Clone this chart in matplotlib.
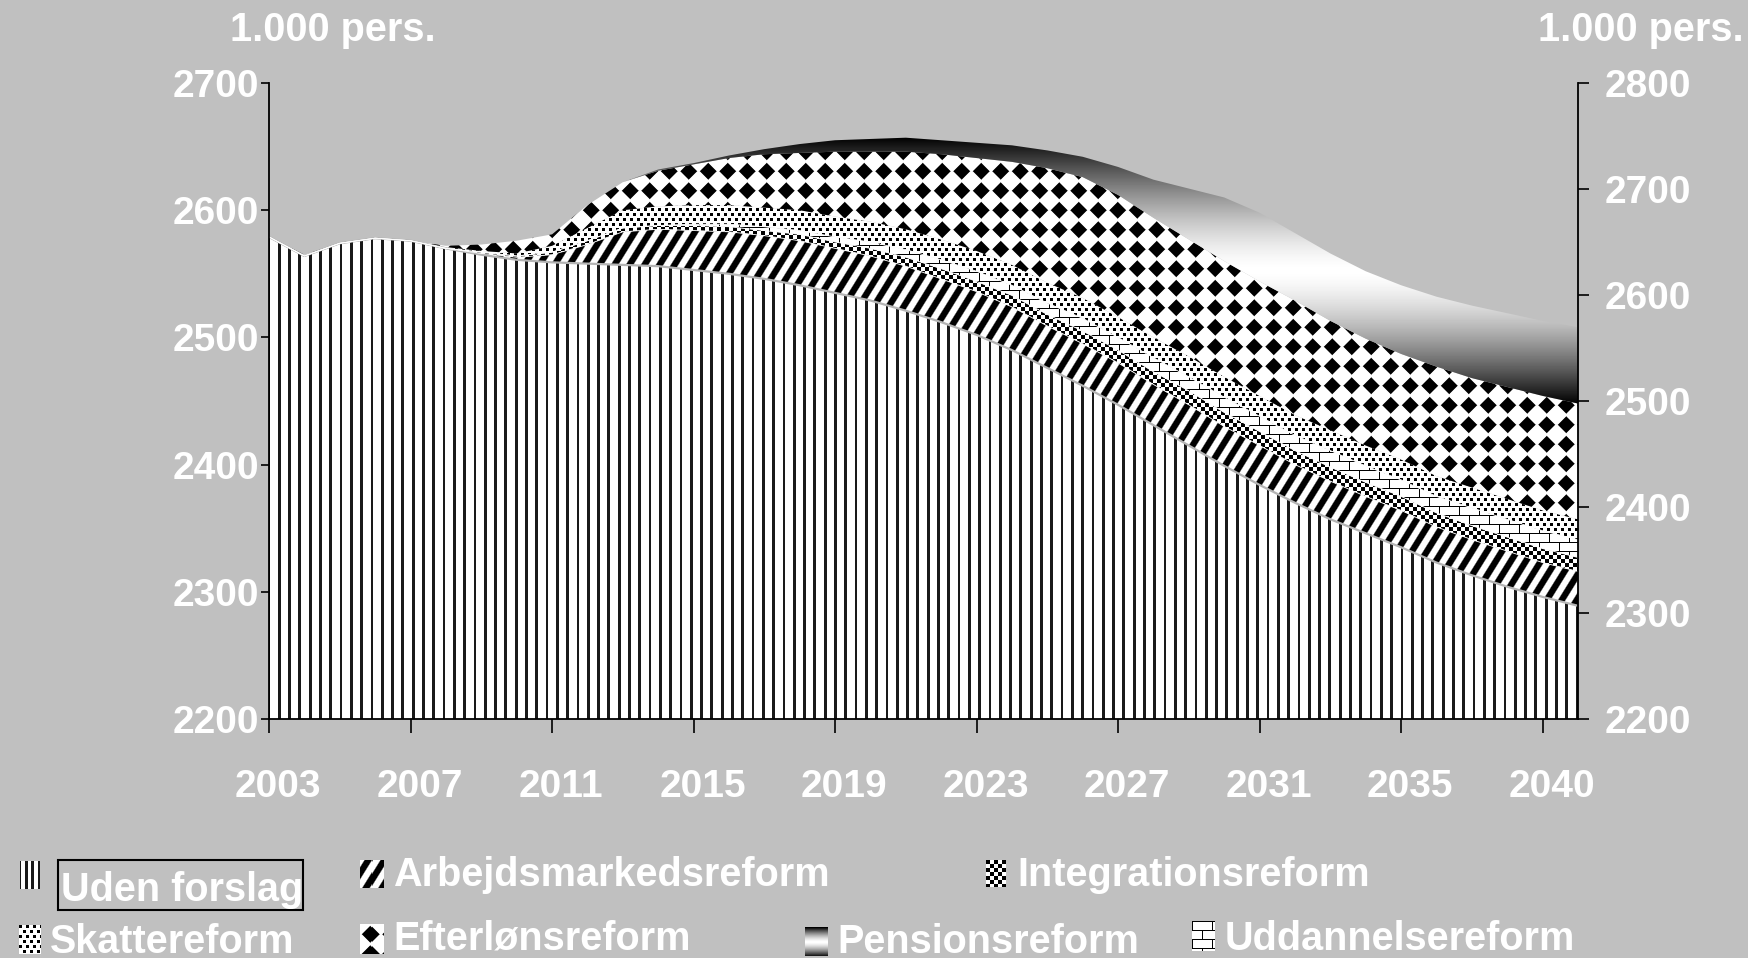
import numpy as np
import matplotlib
matplotlib.use("Agg")
import matplotlib.pyplot as plt
from matplotlib.patches import Rectangle
from matplotlib.transforms import ScaledTranslation

plt.rcParams['font.family'] = ['Liberation Sans', 'DejaVu Sans']
plt.rcParams['font.weight'] = 'bold'

#### data (1.000 pers.), one value per year 2003..2040
years = list(range(2003, 2041))
tick_pos = [0, 4, 8, 12, 16, 20, 24, 28, 32, 36]
tick_labels = ["2003", "2007", "2011", "2015", "2019", "2023", "2027", "2031", "2035", "2040"]

uden_forslag = [2579, 2564, 2574, 2578, 2576, 2570, 2565, 2561, 2559, 2558,
                2557, 2556, 2553, 2550, 2546, 2541, 2535, 2529, 2521, 2512,
                2502, 2490, 2476, 2462, 2447, 2431, 2415, 2399, 2384, 2370,
                2357, 2346, 2335, 2323, 2313, 2304, 2296, 2289]
arbejdsmarked = [0, 0, 0, 0, 0, 0, 1, 2, 6, 15,
                 26, 29, 31, 33, 34, 35, 35, 35, 35, 34,
                 34, 34, 33, 33, 33, 32, 32, 31, 31, 30,
                 30, 29, 29, 28, 28, 28, 27, 27]
integration = [0, 0, 0, 0, 0, 0, 1, 1, 2, 3,
               3, 3, 4, 4, 4, 5, 5, 6, 7, 8,
               8, 9, 9, 10, 10, 10, 11, 11, 11, 11,
               11, 11, 11, 11, 11, 11, 11, 11]
uddannelse = [0, 0, 0, 0, 0, 0, 0, 0, 0, 0,
              0, 0, 1, 2, 3, 3, 4, 5, 6, 7,
              8, 8, 9, 10, 10, 11, 11, 12, 12, 12,
              13, 13, 13, 13, 14, 14, 14, 14]
skatte = [0, 0, 0, 0, 0, 1, 1, 2, 5, 10,
          14, 15, 15, 15, 15, 16, 16, 16, 16, 16,
          16, 16, 16, 16, 16, 16, 16, 16, 16, 16,
          16, 16, 16, 16, 16, 16, 16, 16]
efterloen = [0, 1, 0, 0, 0, 1, 5, 10, 9, 18,
             22, 28, 32, 37, 42, 45, 51, 55, 61, 67,
             73, 81, 90, 95, 96, 94, 92, 91, 90, 90,
             86, 84, 83, 86, 86, 88, 90, 91]
pension = [0, 0, 0, 0, 0, 0, 0, 0, 0, 0,
           0, 1, 1, 2, 4, 7, 9, 10, 11, 11,
           12, 13, 14, 16, 22, 30, 40, 50, 54, 53,
           53, 53, 54, 55, 57, 58, 59, 60]

legend_labels = ["Uden forslag", "Arbejdsmarkedsreform", "Integrationsreform",
                 "Skattereform", "Efterlønsreform", "Pensionsreform", "Uddannelsereform"]

BG = "#c0c0c0"
W, H = 1749, 958
AX_L, AX_R, AX_T, AX_B = 269, 1578, 83, 719


def pattern(kind, h, w, center=None, half=None, period=10.3):
    r, c = np.mgrid[0:h, 0:w].astype(float)
    if kind == "stripes":
        return np.where((c + 2) % period < 2.8, 0.1, 1.0)
    if kind == "diagonal":
        s = np.cos(2 * np.pi * ((c + r * 0.62) % 15.0) / 15.0)
        return np.clip(0.5 + 1.6 * s, 0, 1)
    if kind == "checker":
        return ((c // 4 + r // 4) % 2).astype(float)
    if kind == "bricks":
        v = np.ones((h, w))
        v[(r % 9) == 0] = 0
        v[((c + ((r // 9) % 2) * 10) % 20) == 0] = 0
        return v
    if kind == "dots":
        off = ((r // 5) % 2) * 3.5
        black = ((r % 5) < 3) & (((c + off) % 7) < 3)
        return np.where(black, 0.0, 1.0)
    if kind == "diamonds":
        p = 19.5
        d = np.abs((c % p) - p / 2) + np.abs((r % p) - p / 2)
        return np.clip((d - 0.40 * p) / 1.3, 0, 1)
    if kind == "gradient":
        if center is None:
            center, half = h / 2.0, h / 2.0
        d = np.clip(np.abs(r - center) / half, 0, 1)
        return 1 - d ** 1.5
    return np.ones((h, w))


x = np.arange(len(years))
t0 = np.array(uden_forslag, dtype=float)
t1 = t0 + np.array(arbejdsmarked)
t2 = t1 + np.array(integration)
t3 = t2 + np.array(uddannelse)
t4 = t3 + np.array(skatte)
t5 = t4 + np.array(efterloen)
t6 = t5 + np.array(pension)

fig = plt.figure(figsize=(W / 100, H / 100), dpi=100, facecolor=BG)
ax = fig.add_axes([AX_L / W, 1 - AX_B / H, (AX_R - AX_L) / W, (AX_B - AX_T) / H])
ax.set_facecolor(BG)

ph, pw = AX_B - AX_T, AX_R - AX_L
px_per_unit = ph / 500.0
layers = [
    (np.full(len(x), 2200.0), t0, "stripes"),
    (t0, t1, "diagonal"),
    (t1, t2, "checker"),
    (t2, t3, "bricks"),
    (t3, t4, "dots"),
    (t4, t5, "diamonds"),
    (t5, t6, "gradient"),
]
for i, (lo, hi, kind) in enumerate(layers):
    poly = ax.fill_between(x, lo, hi, facecolor="none", edgecolor="none", zorder=1 + i)
    if kind == "gradient":
        img = pattern(kind, ph, pw, center=(2700 - 2553) * px_per_unit, half=133)
    else:
        img = pattern(kind, ph, pw)
    im = ax.imshow(img, extent=[0, len(x) - 1, 2200, 2700], aspect="auto", cmap="gray",
                   vmin=0, vmax=1, interpolation="nearest", origin="upper", zorder=1 + i)
    im.set_clip_path(poly.get_paths()[0], transform=ax.transData)

ax.plot(x, t0, color="#b4b4b4", lw=1.6, zorder=10)
for t in (t1, t2, t3):
    ax.plot(x, t, color="white", lw=0.6, zorder=10)

ax.set_xlim(0, len(x) - 1)
ax.set_ylim(2200, 2700)
ax.set_yticks(np.arange(2200, 2701, 100))
ax.set_xticks(tick_pos)
ax.set_xticklabels(tick_labels)
for s in ("top", "right"):
    ax.spines[s].set_visible(False)
for s in ("left", "bottom"):
    ax.spines[s].set_linewidth(1.3)
    ax.spines[s].set_zorder(20)
ax.tick_params(axis="y", direction="out", length=6, width=1.2, pad=1, labelsize=28, labelcolor="white")
ax.tick_params(axis="x", direction="out", length=10, width=1.2, pad=26, labelsize=28, labelcolor="white")
for lbl in ax.get_xticklabels():
    lbl.set_transform(lbl.get_transform() + ScaledTranslation(9 / 100, 0, fig.dpi_scale_trans))

ax2 = ax.twinx()
ax2.set_ylim(2200, 2800)
ax2.set_yticks(np.arange(2200, 2801, 100))
for s in ("top", "left", "bottom"):
    ax2.spines[s].set_visible(False)
ax2.spines["right"].set_linewidth(1.3)
ax2.tick_params(axis="y", direction="out", length=8, width=1.2, pad=11, labelsize=28, labelcolor="white")

# axis titles
fig.text(333 / W, 1 - 41 / H, "1.000 pers.", color="white", fontsize=28.5, ha="center", va="baseline")
fig.text(1641 / W, 1 - 41 / H, "1.000 pers.", color="white", fontsize=28.5, ha="center", va="baseline")

# legend
icon_boxes = [(20, 861, 40, 889), (360, 860, 383, 888), (986, 860, 1006, 887),
              (19, 925, 41, 954), (360, 924, 383, 954), (805, 927, 828, 956), (1192, 921, 1215, 951)]
icon_kinds = ["stripes", "diagonal", "checker", "dots", "diamonds", "gradient", "bricks"]
text_pos = [(61, 901), (393, 886), (1017, 886), (50, 953), (393, 949), (837, 953), (1225, 950)]
for (x0, y0, x1, y1), kind, (tx, ty), label in zip(icon_boxes, icon_kinds, text_pos, legend_labels):
    iax = fig.add_axes([x0 / W, 1 - y1 / H, (x1 - x0) / W, (y1 - y0) / H])
    iax.imshow(pattern(kind, y1 - y0, x1 - x0, period=6.5), cmap="gray", vmin=0, vmax=1,
               interpolation="nearest", aspect="auto")
    iax.axis("off")
    fig.text(tx / W, 1 - ty / H, label, color="white", fontsize=28.5, ha="left", va="baseline")

fig.patches.append(Rectangle((58 / W, 1 - 910 / H), 245 / W, 50 / H, transform=fig.transFigure,
                             fill=False, edgecolor="black", lw=1.5))

fig.savefig("out.png", dpi=100, facecolor=BG)
